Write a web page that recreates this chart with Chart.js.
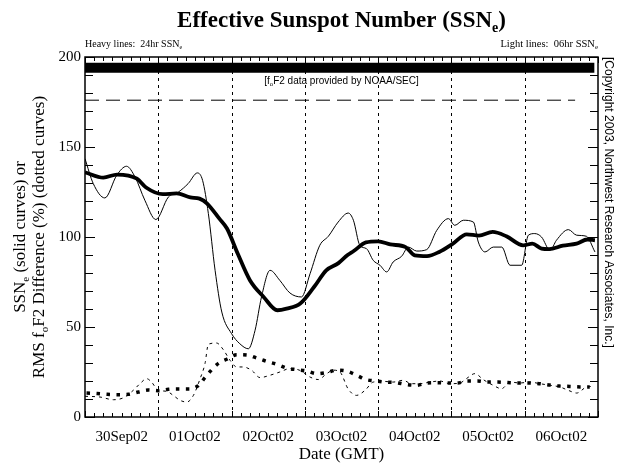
<!DOCTYPE html>
<html>
<head>
<meta charset="utf-8">
<title>Effective Sunspot Number</title>
<script src="https://cdn.jsdelivr.net/npm/chart.js@4.4.1/dist/chart.umd.min.js"></script>
<style>
  html, body { margin: 0; padding: 0; background: #fff; }
  canvas { display: block; }
</style>
</head>
<body>
<canvas id="ssn" width="622" height="466"></canvas>
<script>
// hours since 30Sep02 00:00 GMT
const dayLabels = ['30Sep02', '01Oct02', '02Oct02', '03Oct02', '04Oct02', '05Oct02', '06Oct02'];

// 24hr SSNe (heavy solid)
const ssn24Hours = [0, 6, 10.5, 17, 20, 25.5, 30, 34.5, 37.5, 40, 44, 46.5, 50, 54, 58.5, 63, 66, 70.5, 75, 79, 83, 86, 88, 92, 96, 100, 105, 108, 112, 116, 120.5, 125, 129, 133.5, 138, 143.5, 146.5, 149.5, 152, 156.5, 161, 164.5, 167];
const ssn24Values = [136, 133, 134.7, 132.4, 127.5, 123.8, 124.2, 122, 121.3, 118.6, 110.2, 104.7, 90.8, 76, 66.7, 59.3, 60.2, 63, 72.2, 81.5, 85.5, 90, 92.2, 97, 97.6, 95.9, 94.4, 89.8, 89.4, 91.7, 96.3, 101.5, 100.8, 102.8, 100.4, 95.4, 96.3, 93.6, 93.3, 95.2, 96.3, 98.6, 98.2];

// 06hr SSNe (light solid)
const ssn06Hours = [0, 2.7, 6.5, 10.4, 13.6, 16.4, 19.6, 23.2, 27.3, 30.6, 33.8, 36.8, 38.5, 40.4, 42.6, 44.8, 48, 50.7, 53.5, 55.7, 57.8, 60.6, 63.8, 67.1, 70.9, 73.7, 76.9, 79.7, 82.9, 86.2, 87.9, 90, 92.2, 94.4, 96.6, 98.8, 100.9, 103.7, 105.9, 108.6, 111.9, 115.2, 119, 121.1, 123.9, 127.2, 128.8, 131, 133.7, 136.5, 139.2, 143, 145.2, 147.3, 149.5, 152.3, 154.4, 158.3, 161, 164.2, 167];
const ssn06Values = [143.5, 129.7, 121.7, 134.3, 139.3, 133.3, 120.4, 109.7, 122.2, 125, 129.7, 135.6, 131.5, 113, 81.5, 58.3, 46.3, 40.7, 37.9, 48.2, 66.7, 81.5, 75.9, 68.9, 66.7, 79.6, 95.4, 100.4, 108.3, 113.3, 109.3, 95.4, 93.5, 87, 84.3, 80.6, 86.1, 89.3, 94.4, 92.2, 93, 103.7, 110.2, 106.5, 109.3, 108.3, 97.2, 91.7, 94.4, 94.4, 84.3, 84.3, 101, 101.9, 100, 92.6, 98.2, 104.1, 101, 100.4, 91.7];

// 24hr RMS foF2 difference, % (heavy dotted)
const rms24Hours = [0.5, 4, 7.3, 10.7, 14.2, 17.5, 20.7, 24, 27.3, 30.8, 34.1, 37.1, 39.3, 41.3, 43.7, 46.6, 49.7, 53.1, 56.2, 59.5, 62.8, 66, 69.3, 72.6, 75.9, 79.1, 82.4, 85.7, 88.9, 92, 95.3, 98.6, 101.8, 105.1, 108.4, 111.9, 115.2, 118.7, 121.9, 125.2, 128.5, 131.7, 135.3, 138.5, 141.8, 145.3, 148.8, 151.9, 155.3, 158.8, 162.1, 165.3];
const rms24Values = [13.3, 13, 12.6, 12.4, 12.6, 13.9, 15, 14.6, 15.4, 15.6, 15.6, 17.4, 21.9, 25.9, 29.8, 32.2, 34.6, 34.4, 32.8, 30.9, 29.3, 27.2, 26.3, 25.6, 24.1, 24.7, 26, 25.5, 23.2, 20.8, 20, 19.4, 19.1, 18.1, 17.6, 18.9, 19.1, 18.9, 18.9, 20, 20, 19.4, 19.4, 19.1, 18.9, 18.9, 18.5, 17.8, 17.2, 17, 16.7, 16.7];

// 06hr RMS foF2 difference, % (light dotted)
const rms06Hours = [0, 4.9, 9.3, 12.6, 15.8, 18, 20.2, 21.8, 24, 26.7, 28.9, 31.1, 33.3, 35.5, 37.7, 39.3, 40.4, 43.1, 45.3, 47.5, 49.7, 51.8, 54.6, 57.3, 60.6, 63.8, 67.1, 70.4, 73.7, 76.4, 79.1, 81.3, 83.5, 86.2, 88.9, 91.7, 94.4, 97.7, 100.9, 104.2, 106.9, 109.7, 113, 116.2, 119.5, 122.8, 124.9, 127.7, 130.4, 133.7, 136.4, 139.2, 142.4, 145.7, 149, 152.3, 155.5, 158.3, 161, 164.3, 166.5];
const rms06Values = [11.5, 11.1, 9.6, 10.7, 14.8, 18.5, 21.3, 19.4, 14.8, 14.3, 12, 9.3, 8.3, 12, 21.3, 29.7, 40.4, 41.1, 37.4, 31.5, 27.8, 27.8, 25.9, 21.9, 23.2, 25, 26.9, 25.9, 22.2, 20.8, 24, 26, 25, 15.5, 12, 14.8, 19.4, 19.8, 19.4, 20.4, 18.5, 18.5, 19.4, 20, 18.5, 18.9, 21.3, 24.1, 20.8, 17.6, 15.7, 19.4, 18.9, 19.4, 18.5, 17.6, 16.7, 14.8, 13.3, 16.7, 17];

// foF2 data coverage bar and the dashed reference level
const coverageHours = [0, 166.8];
const coverageLevel = 194;
const refHours = [0, 160.5];
const refLevel = 176;

const serif = '"Liberation Serif", "Times New Roman", serif';
const sans = '"Liberation Sans", Arial, sans-serif';

function pts(xs, ys) {
    return xs.map((x, i) => ({ x: x, y: Array.isArray(ys) ? ys[i] : ys }));
}

// text with subscripts: parts = [[text, isSub], ...]
function richText(ctx, parts, x, y, size, family, weight, align) {
    const fontFor = sub => weight + ' ' + (sub ? Math.round(size * 0.62) : size) + 'px ' + family;
    let w = 0;
    parts.forEach(p => { ctx.font = fontFor(p[1]); w += ctx.measureText(p[0]).width; });
    let cx = align === 'center' ? x - w / 2 : align === 'right' ? x - w : x;
    ctx.textAlign = 'left';
    ctx.textBaseline = 'alphabetic';
    parts.forEach(p => {
        ctx.font = fontFor(p[1]);
        ctx.fillText(p[0], cx, p[1] ? y + size * 0.22 : y);
        cx += ctx.measureText(p[0]).width;
    });
}

const framePlugin = {
    id: 'frame',
    beforeDatasetsDraw(chart) {
        const { ctx, chartArea: a, scales: { x, y } } = chart;
        ctx.save();
        // day boundaries
        ctx.strokeStyle = '#000';
        ctx.lineWidth = 1;
        ctx.setLineDash([3, 4]);
        for (let h = 24; h < 168; h += 24) {
            const px = Math.round(x.getPixelForValue(h)) + 0.5;
            ctx.beginPath();
            ctx.moveTo(px, a.top);
            ctx.lineTo(px, a.bottom);
            ctx.stroke();
        }
        ctx.restore();
    },
    afterDatasetsDraw(chart) {
        const { ctx, chartArea: a, scales: { x, y } } = chart;
        ctx.save();
        ctx.strokeStyle = '#000';
        ctx.fillStyle = '#000';
        ctx.lineWidth = 1;

        // inward tick marks
        ctx.beginPath();
        for (let h = 0; h <= 168; h += 3) {
            const px = Math.round(x.getPixelForValue(h)) + 0.5;
            const len = h % 24 === 0 ? 6 : 4;
            ctx.moveTo(px, a.bottom); ctx.lineTo(px, a.bottom - len);
            ctx.moveTo(px, a.top); ctx.lineTo(px, a.top + len);
        }
        for (let v = 0; v <= 200; v += 10) {
            const py = Math.round(y.getPixelForValue(v)) + 0.5;
            const len = v % 50 === 0 ? 10 : 8;
            ctx.moveTo(a.left, py); ctx.lineTo(a.left + len, py);
            ctx.moveTo(a.right, py); ctx.lineTo(a.right - len, py);
        }
        ctx.stroke();

        // frame
        ctx.lineWidth = 1.5;
        ctx.strokeRect(a.left, a.top, a.right - a.left, a.bottom - a.top);

        const cx = (a.left + a.right) / 2;

        // title and header notes
        richText(ctx, [['Effective Sunspot Number (SSN', false], ['e', true], [')', false]], cx, 27, 23, serif, 'bold', 'center');
        richText(ctx, [['Heavy lines:  24hr SSN', false], ['e', true]], a.left, 47, 10, serif, 'normal', 'left');
        richText(ctx, [['Light lines:  06hr SSN', false], ['e', true]], a.right, 47, 10.5, serif, 'normal', 'right');

        // data source note under the coverage bar
        richText(ctx, [['[f', false], ['o', true], ['F2 data provided by NOAA/SEC]', false]], cx, 84, 10, sans, 'normal', 'center');

        // x axis title
        ctx.font = '17px ' + serif;
        ctx.textAlign = 'center';
        ctx.textBaseline = 'middle';
        ctx.fillText('Date (GMT)', cx, 455);

        // y axis title, two lines
        const cy = (a.top + a.bottom) / 2;
        ctx.save();
        ctx.translate(25, cy);
        ctx.rotate(-Math.PI / 2);
        richText(ctx, [['SSN', false], ['e', true], [' (solid curves) or', false]], 0, 0, 17, serif, 'normal', 'center');
        ctx.restore();
        ctx.save();
        ctx.translate(44, cy);
        ctx.rotate(-Math.PI / 2);
        richText(ctx, [['RMS f', false], ['o', true], ['F2 Difference (%) (dotted curves)', false]], 0, 0, 17, serif, 'normal', 'center');
        ctx.restore();

        // copyright, reading downwards on the right
        ctx.save();
        ctx.translate(605, a.top);
        ctx.rotate(Math.PI / 2);
        ctx.font = '12px ' + sans;
        ctx.textAlign = 'left';
        ctx.textBaseline = 'alphabetic';
        ctx.fillText('[Copyright 2003, Northwest Research Associates, Inc.]', 0, 0);
        ctx.restore();

        ctx.restore();
    }
};

const lineBase = { pointRadius: 0, fill: false, borderColor: '#000', cubicInterpolationMode: 'monotone' };

new Chart(document.getElementById('ssn'), {
    type: 'line',
    data: {
        datasets: [
            Object.assign({}, lineBase, { label: 'coverage', data: pts(coverageHours, coverageLevel), borderWidth: 10, borderCapStyle: 'butt' }),
            Object.assign({}, lineBase, { label: 'reference', data: pts(refHours, refLevel), borderWidth: 1, borderDash: [14, 7] }),
            Object.assign({}, lineBase, { label: '06hr RMS', data: pts(rms06Hours, rms06Values), borderWidth: 1, borderDash: [3, 4] }),
            Object.assign({}, lineBase, { label: '24hr RMS', data: pts(rms24Hours, rms24Values), borderWidth: 3.5, borderDash: [3.5, 6.5], borderCapStyle: 'butt' }),
            Object.assign({}, lineBase, { label: '06hr SSNe', data: pts(ssn06Hours, ssn06Values), borderWidth: 1 }),
            Object.assign({}, lineBase, { label: '24hr SSNe', data: pts(ssn24Hours, ssn24Values), borderWidth: 3.8 })
        ]
    },
    options: {
        responsive: false,
        devicePixelRatio: 1,
        animation: false,
        layout: { padding: { left: 45, right: 24, top: 57, bottom: 19 } },
        plugins: { legend: { display: false }, tooltip: { enabled: false }, title: { display: false } },
        scales: {
            x: {
                type: 'linear',
                min: 0,
                max: 168,
                grid: { display: false, drawTicks: false },
                border: { display: false },
                afterFit: s => { s.height = 30; },
                ticks: {
                    stepSize: 12,
                    maxTicksLimit: 100,
                    autoSkip: false,
                    maxRotation: 0,
                    padding: 11,
                    color: '#000',
                    font: { family: serif, size: 15 },
                    callback: v => (v % 24 === 12 ? dayLabels[(v - 12) / 24] : '')
                }
            },
            y: {
                min: 0,
                max: 200,
                grid: { display: false, drawTicks: false },
                border: { display: false },
                afterFit: s => { s.width = 40; },
                ticks: {
                    stepSize: 50,
                    padding: 4,
                    color: '#000',
                    font: { family: serif, size: 15 }
                }
            }
        }
    },
    plugins: [framePlugin]
});
</script>
</body>
</html>
